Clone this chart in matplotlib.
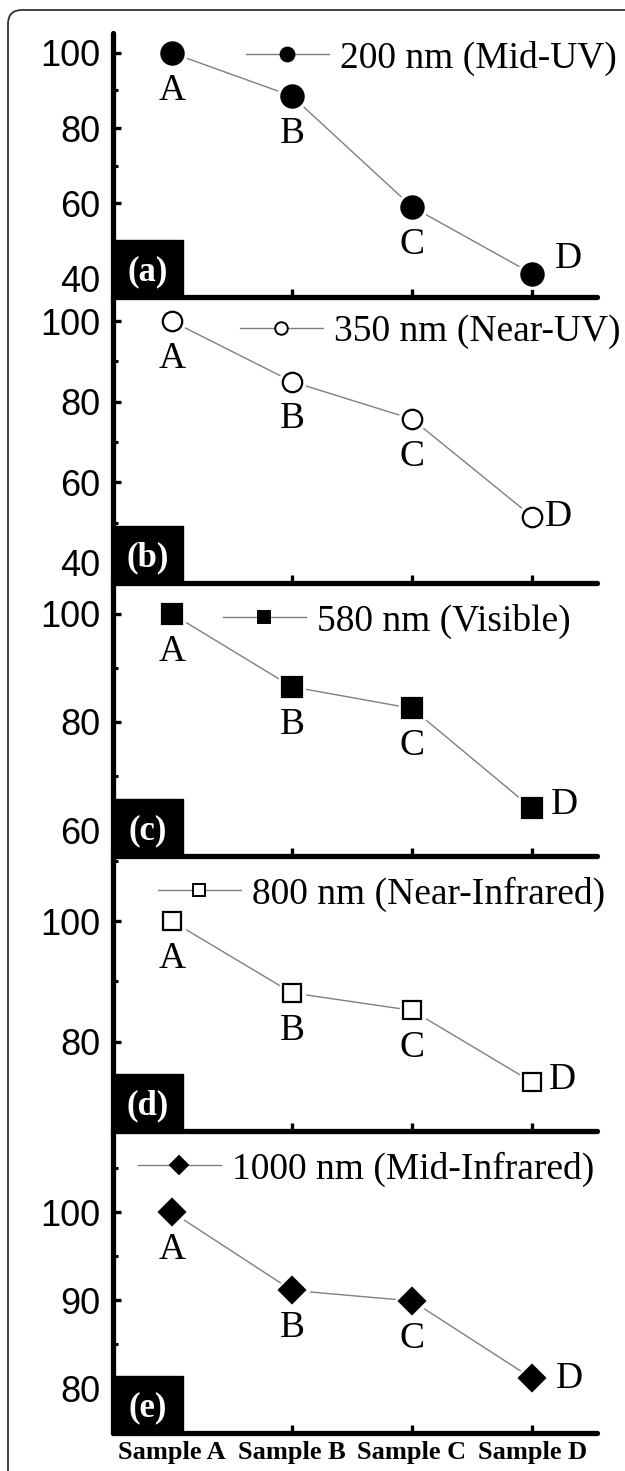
import matplotlib
matplotlib.use("Agg")
import matplotlib.pyplot as plt
from matplotlib.lines import Line2D
from matplotlib.patches import Rectangle, FancyBboxPatch
from matplotlib.ticker import MultipleLocator

# ---------------- data ----------------
samples = ["Sample A", "Sample B", "Sample C", "Sample D"]
point_letters = ["A", "B", "C", "D"]
panel_tags = ["(a)", "(b)", "(c)", "(d)", "(e)"]
series_names = ["200 nm (Mid-UV)", "350 nm (Near-UV)", "580 nm (Visible)",
                "800 nm (Near-Infrared)", "1000 nm (Mid-Infrared)"]
vals_200 = [100, 88.5, 59.0, 41.2]
vals_350 = [100, 85.0, 75.7, 51.5]
vals_580 = [100, 86.5, 82.5, 64.0]
vals_800 = [100, 88.1, 85.2, 73.3]
vals_1000 = [100, 91.1, 89.9, 81.1]
all_vals = [vals_200, vals_350, vals_580, vals_800, vals_1000]

# ---------------- styles / layout ----------------
W, H = 625, 1471
fig = plt.figure(figsize=(W / 100, H / 100), dpi=100)

AX_L, AX_R = 113, 597
panels_px = [(33, 297), (297, 583), (583, 856), (856, 1131), (1131, 1433)]
ylims = [(35, 105.3), (35, 106), (55.2, 105.7), (65.2, 110.8), (74.9, 109.2)]
major_steps = [20, 20, 20, 20, 10]
minor_steps = [10, 10, 10, 10, 5]
markers = ["o", "o", "s", "s", "D"]
face = ["black", "white", "black", "white", "black"]
msizes = [16, 14, 14, 13, 13.5]
leg_ms = [10, 9, 9, 8.5, 9]
legend_px = [(246, 58), (240, 332), (223, 621), (158, 894), (138, 1169)]
d_offsets = [(26, 11), (19, 0), (23, 3), (22, 2), (27, 0)]
box_h_px = 57
gray = "#7f7f7f"

serif = "Liberation Serif"
sans = "Liberation Sans"
xpos = list(range(len(samples)))

for i, (top, bot) in enumerate(panels_px):
    ax = fig.add_axes([AX_L / W, 1 - bot / H, (AX_R - AX_L) / W, (bot - top) / H])
    vals = all_vals[i]
    ax.set_xlim(-0.49, 3.54)
    ax.set_ylim(*ylims[i])
    for s in ["top", "right"]:
        ax.spines[s].set_visible(False)
    for s in ["left", "bottom"]:
        ax.spines[s].set_linewidth(3.8)
        ax.spines[s].set_capstyle("round")
    ax.patch.set_alpha(0)

    ax.plot(xpos, vals, color=gray, lw=1.0, zorder=2)
    ax.plot(xpos, vals, ls="none", marker=markers[i], ms=msizes[i] + 5,
            mfc="white", mec="white", zorder=3)
    ax.plot(xpos, vals, ls="none", marker=markers[i], ms=msizes[i],
            mfc=face[i], mec="black", mew=1.6, zorder=4)

    for j, (xv, yv) in enumerate(zip(xpos, vals)):
        if j < 3:
            off = (0, -27)
        else:
            off = d_offsets[i]
        ax.annotate(point_letters[j], (xv, yv), xytext=off, textcoords="offset points",
                    ha="center", va="center", fontsize=27, family=serif, zorder=6)

    ax.set_xticks(xpos)
    ax.yaxis.set_major_locator(MultipleLocator(major_steps[i]))
    ax.yaxis.set_minor_locator(MultipleLocator(minor_steps[i]))
    ax.tick_params(axis="both", which="major", direction="in", length=5.5, width=2.4)
    ax.tick_params(axis="y", which="minor", direction="in", length=3.5, width=2.2)
    ax.tick_params(axis="y", which="major", pad=9, labelsize=26)
    for lab in ax.get_yticklabels():
        lab.set_family(sans)
    if i == len(panels_px) - 1:
        ax.set_xticklabels(samples, fontsize=19, family=serif, fontweight="bold")
        ax.tick_params(axis="x", pad=6)
    else:
        ax.tick_params(axis="x", labelbottom=False)

    # black tag box
    ph = bot - top
    bw = 70 / (AX_R - AX_L)
    bh = box_h_px / ph
    ax.add_patch(Rectangle((0, 0), bw, bh, transform=ax.transAxes, color="black",
                           zorder=7, clip_on=False))
    ax.text(bw / 2, bh / 2 - 0.012, panel_tags[i], transform=ax.transAxes, ha="center",
            va="center", color="white", fontsize=25, family=serif,
            fontweight="bold", zorder=8)

    # legend
    handle = Line2D([], [], color=gray, lw=1.0, marker=markers[i], ms=leg_ms[i],
                    mfc=face[i], mec="black", mew=1.4)
    lx, ly = legend_px[i]
    ax.legend([handle], [series_names[i]], loc="center left",
              bbox_to_anchor=(lx / W, 1 - ly / H), bbox_transform=fig.transFigure,
              frameon=False, borderpad=0, borderaxespad=0, handlelength=2.2,
              handletextpad=0.3, prop={"family": serif, "size": 27})

# outer rounded frame (top and left edges only visible)
frame = FancyBboxPatch((8, -200), 3000, H - 10 + 200, boxstyle="round,pad=0,rounding_size=14",
                       transform=None, fill=False, ec="#333333", lw=1.3)
fig.add_artist(frame)

fig.savefig("out.png", dpi=100)
